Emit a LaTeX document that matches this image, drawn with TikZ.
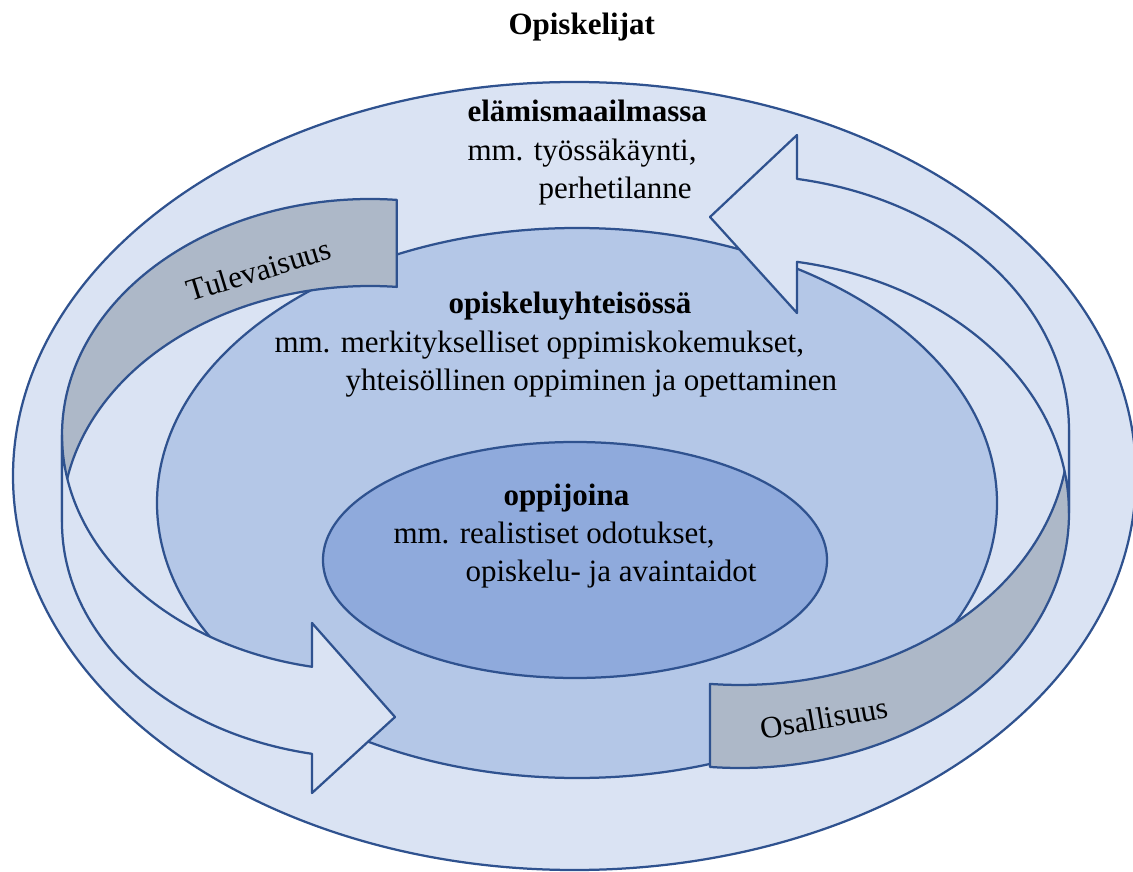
\documentclass[tikz,border=0pt]{standalone}
\usepackage{fontspec}
\setmainfont{Liberation Serif}

\definecolor{outerColor}{RGB}{218,227,243}
\definecolor{midColor}{RGB}{180,199,231}
\definecolor{innerColor}{RGB}{143,170,220}
\definecolor{bandColor}{RGB}{173,184,200}
\definecolor{lineColor}{RGB}{47,82,143}

\tikzset{
  ring/.style={draw=lineColor, line width=0.9pt, line join=round},
  txt/.style={anchor=base west, inner sep=0pt}
}

\begin{document}
\begin{tikzpicture}[x=0.4pt, y=-0.4pt, font=\fontsize{12.4}{15}\selectfont]
  \useasboundingbox (0,0) rectangle (1133,872);
  % Ellipses
  \draw[ring, fill=outerColor] (574.5,476) ellipse[x radius=561.5, y radius=394];
  \draw[ring, fill=midColor] (577,503) ellipse[x radius=420, y radius=275];
  \draw[ring, fill=innerColor] (575,560) ellipse[x radius=252, y radius=118];
  % Left arrow, back side
  \draw[ring, fill=bandColor] (396.85,199.9) arc[start angle=275, end angle=180, x radius=308, y radius=236]
    -- (62,522) arc[start angle=180, end angle=275, x radius=308, y radius=236] -- cycle;
  % Left arrow, front side
  \draw[ring, fill=outerColor] (62,435) arc[start angle=180, end angle=100.85, x radius=308, y radius=236]
    -- (312,623) -- (395,717) -- (312,793)
    -- (312,753.8) arc[start angle=100.85, end angle=180, x radius=308, y radius=236] -- cycle;
  % Right arrow, back side
  \draw[ring, fill=bandColor] (710,683.9) arc[start angle=95.23, end angle=0, x radius=329, y radius=255]
    -- (1069,513) arc[start angle=0, end angle=95.23, x radius=329, y radius=255] -- cycle;
  % Right arrow, front side
  \draw[ring, fill=outerColor] (797,178.9) arc[start angle=279.98, end angle=360, x radius=329, y radius=255]
    -- (1069,513) arc[start angle=360, end angle=279.98, x radius=329, y radius=255]
    -- (797,313) -- (710,217) -- (797,135) -- cycle;
  % Band labels
  \node[rotate=17] (future) at (259,270) {Tulevaisuus};
  \node[rotate=10] (share) at (824,718) {Osallisuus};
  % Title
  \node[txt] (title) at (508,35) {\bfseries Opiskelijat};
  % Life world
  \node[txt] (lifeHead) at (467,122) {\bfseries elämismaailmassa};
  \node[txt] (lifeA) at (467,161) {mm. työssäkäynti,};
  \node[txt] (lifeB) at (538,199) {perhetilanne};
  % Study community
  \node[txt] (commHead) at (448,314) {\bfseries opiskeluyhteisössä};
  \node[txt] (commA) at (274,352) {mm. merkitykselliset oppimiskokemukset,};
  \node[txt] (commB) at (345,390) {yhteisöllinen oppiminen ja opettaminen};
  % Learners
  \node[txt] (learnHead) at (503,505) {\bfseries oppijoina};
  \node[txt] (learnA) at (393,543) {mm. realistiset odotukset,};
  \node[txt] (learnB) at (465,581) {opiskelu- ja avaintaidot};
\end{tikzpicture}
\end{document}
